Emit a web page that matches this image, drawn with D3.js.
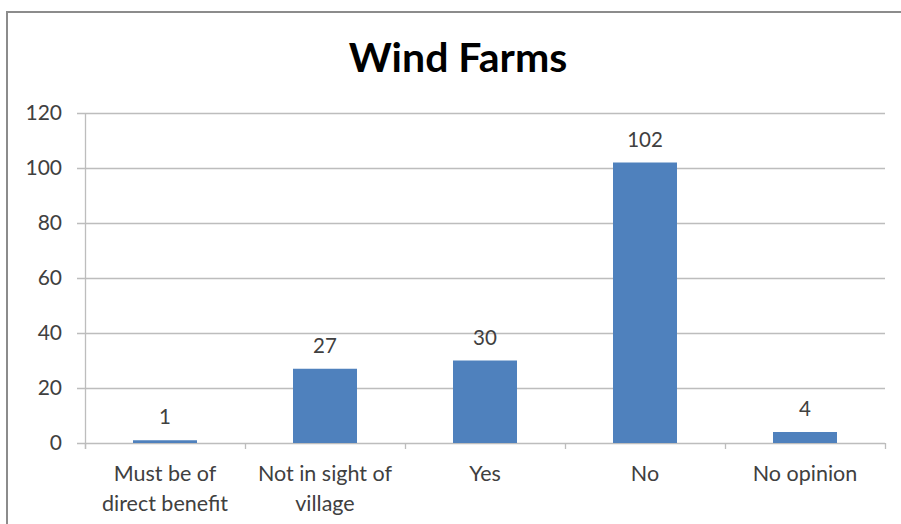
<!DOCTYPE html>
<html><head><meta charset="utf-8">
<script src="https://cdn.jsdelivr.net/npm/d3@7"></script>
<style>body{margin:0;background:#fff}svg{display:block}text{font-family:Lato,"Open Sans",sans-serif}</style>
</head><body>
<svg id="c" width="901" height="524"></svg>
<script>
const categories = [["Must be of","direct benefit"],["Not in sight of","village"],["Yes"],["No"],["No opinion"]];
const values = [1, 27, 30, 102, 4];
const yTicks = [0, 20, 40, 60, 80, 100, 120];
const title = "Wind Farms";

const svg = d3.select("#c");
const m = {l:85, r:885, t:113, b:443};
svg.append("rect").attr("x",7).attr("y",12).attr("width",920).attr("height",540)
  .attr("fill","#fff").attr("stroke","#8c8c8c").attr("stroke-width",2);

const x = d3.scaleBand().domain(d3.range(categories.length)).range([m.l,m.r]).paddingInner(0).paddingOuter(0);
const y = d3.scaleLinear().domain([0,120]).range([m.b,m.t]);

// gridlines
svg.append("g").selectAll("line").data(yTicks).join("line")
  .attr("x1",m.l-8).attr("x2",m.r).attr("y1",d=>y(d)+0.5).attr("y2",d=>y(d)+0.5)
  .attr("stroke","#bdbdbd").attr("stroke-width",1.3);
// y axis line
svg.append("line").attr("x1",m.l+0.5).attr("x2",m.l+0.5).attr("y1",m.t).attr("y2",m.b+6)
  .attr("stroke","#bdbdbd").attr("stroke-width",1.3);
// x ticks
const bounds = d3.range(categories.length+1).map(i=> i<categories.length ? x(i) : m.r);
svg.append("g").selectAll("line").data(bounds).join("line")
  .attr("x1",d=>d+0.5).attr("x2",d=>d+0.5).attr("y1",m.b).attr("y2",m.b+6)
  .attr("stroke","#bdbdbd").attr("stroke-width",1.3);
// y labels
svg.append("g").selectAll("text").data(yTicks).join("text")
  .attr("x",62).attr("y",d=>y(d)).attr("dy","0.35em").attr("text-anchor","end")
  .attr("font-size",21).attr("fill","#404040").text(d=>d);

// bars
const bw = x.bandwidth()*0.4;
svg.append("g").selectAll("rect").data(values).join("rect")
  .attr("x",(d,i)=>x(i)+x.bandwidth()/2-bw/2).attr("width",bw)
  .attr("y",d=>y(d)).attr("height",d=>y(0)-y(d)).attr("fill","#4f81bd");
// value labels
svg.append("g").selectAll("text").data(values).join("text")
  .attr("x",(d,i)=>x(i)+x.bandwidth()/2).attr("y",d=>y(d)-16)
  .attr("text-anchor","middle").attr("font-size",20.5).attr("fill","#404040").text(d=>d);
// x labels
const xl = svg.append("g").selectAll("text").data(categories).join("text")
  .attr("x",(d,i)=>x(i)+x.bandwidth()/2).attr("y",481)
  .attr("text-anchor","middle").attr("font-size",21.5).attr("fill","#404040");
xl.each(function(d,i){
  const t=d3.select(this);
  d.forEach((s,j)=>t.append("tspan").attr("x",x(i)+x.bandwidth()/2).attr("dy",j?30:0).text(s));
});
// title
svg.append("text").attr("x",458).attr("y",72).attr("text-anchor","middle")
  .attr("font-size",41).attr("font-weight","bold").attr("fill","#000").text(title);
</script>
</body></html>
